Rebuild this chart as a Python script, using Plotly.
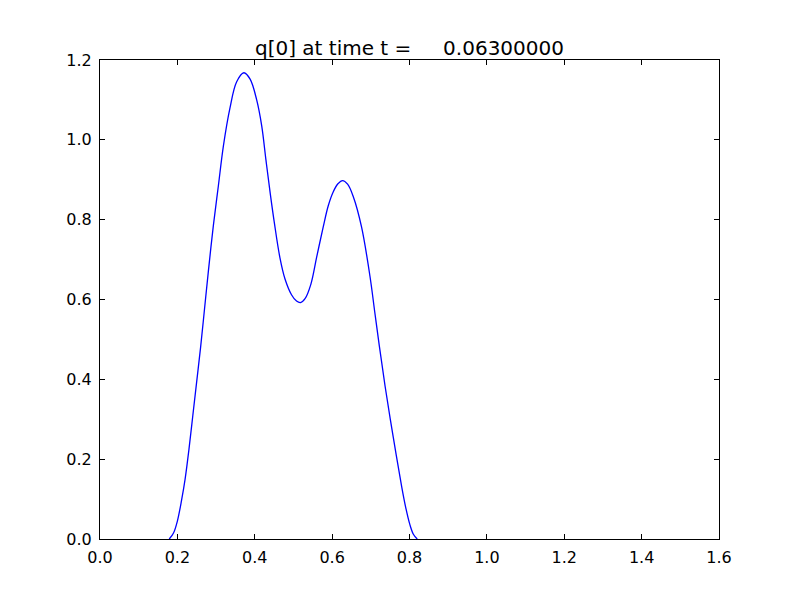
import plotly.graph_objects as go

x_vals = [0.179, 0.190, 0.200, 0.211, 0.220, 0.230, 0.240, 0.250, 0.260, 0.270, 0.280,
          0.293, 0.306, 0.319, 0.336, 0.353, 0.372, 0.388, 0.405, 0.418, 0.429, 0.440,
          0.451, 0.465, 0.478, 0.495, 0.508, 0.518, 0.530, 0.545, 0.560, 0.577, 0.590,
          0.603, 0.615, 0.627, 0.640, 0.655, 0.676, 0.698, 0.710, 0.722, 0.737, 0.758,
          0.780, 0.790, 0.801, 0.810, 0.820]
q_vals = [0.0, 0.015, 0.045, 0.098, 0.150, 0.225, 0.310, 0.395, 0.480, 0.575, 0.670,
          0.785, 0.885, 0.985, 1.080, 1.145, 1.168, 1.152, 1.100, 1.035, 0.949, 0.866,
          0.790, 0.705, 0.652, 0.612, 0.596, 0.592, 0.602, 0.638, 0.706, 0.782, 0.835,
          0.870, 0.890, 0.898, 0.889, 0.857, 0.782, 0.657, 0.570, 0.484, 0.382, 0.255,
          0.130, 0.080, 0.036, 0.012, 0.0]
x_ticks = [0.0, 0.2, 0.4, 0.6, 0.8, 1.0, 1.2, 1.4, 1.6]
y_ticks = [0.0, 0.2, 0.4, 0.6, 0.8, 1.0, 1.2]
title_text = "q[0] at time t =\u00a0\u00a0\u00a0\u00a0\u00a00.06300000"

fig = go.Figure()
fig.add_trace(go.Scatter(x=x_vals, y=q_vals, mode="lines",
                         line=dict(color="#0000ff", width=1.3, shape="spline", smoothing=1.0),
                         showlegend=False, hoverinfo="skip"))

font = dict(family="DejaVu Sans", size=16, color="black")
axis_common = dict(showgrid=False, zeroline=False, showline=True, linecolor="black",
                   linewidth=1.2, mirror="ticks", ticks="inside", ticklen=5,
                   tickcolor="black", tickwidth=1, tickformat=".1f", tickfont=font,
                   layer="above traces")

fig.update_layout(
    width=800, height=600,
    paper_bgcolor="white", plot_bgcolor="white",
    margin=dict(l=92, r=89, t=52, b=69),
    title=dict(text=title_text, x=0.5, xref="paper", xanchor="center",
               y=1, yref="paper", yanchor="bottom", pad=dict(b=5),
               font=dict(family="DejaVu Sans", size=20, color="black")),
    xaxis=dict(range=[0, 1.6], tickvals=x_ticks, ticklabelstandoff=4, **axis_common),
    yaxis=dict(range=[0, 1.2], tickvals=y_ticks, ticklabelstandoff=4, **axis_common),
)

fig.write_html("out.html")
